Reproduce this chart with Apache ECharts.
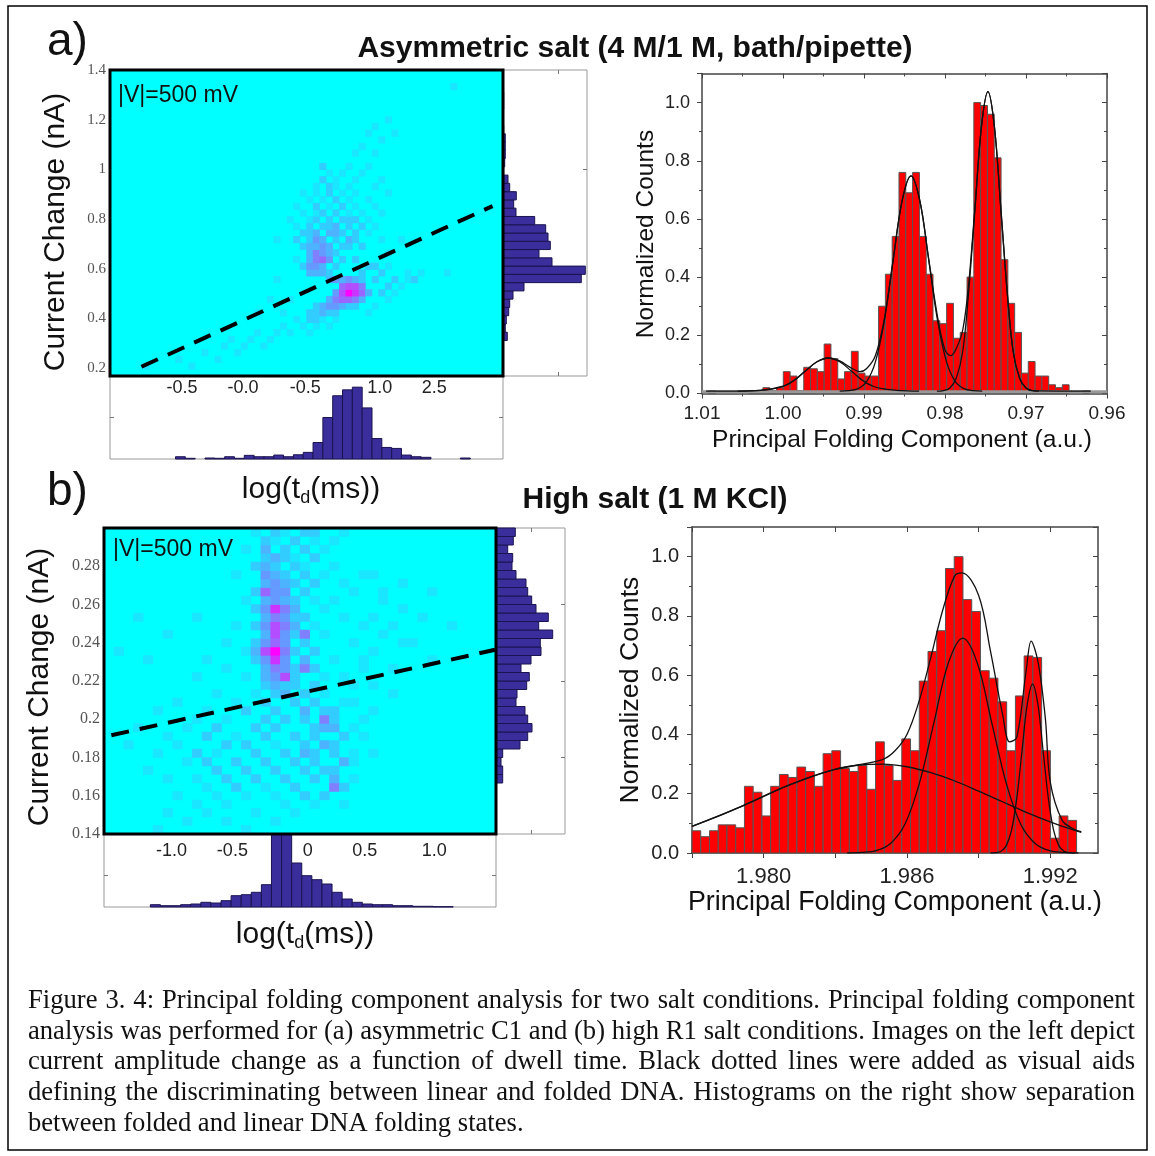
<!DOCTYPE html>
<html>
<head>
<meta charset="utf-8">
<style>
html,body{margin:0;padding:0;background:#fff}
#chart{width:1155px;height:1156px}
</style>
<script src="https://cdn.jsdelivr.net/npm/echarts@6/dist/echarts.min.js"></script>
</head>
<body>
<div id="chart"></div>
<script>
// ---------- data ----------

// (a) dwell-time / current-change map, 60 x 46 bins, [col, row, count]; empty bins left out
const heatA = [
  [5,1,1],[12,1,1],[10,2,1],[16,2,1],[14,3,1],[19,3,1],[17,4,1],[20,4,1],[23,4,1],[18,5,1],[21,5,1],[24,5,1],
  [22,6,1],[25,6,1],[27,6,1],[30,6,1],[26,7,1],[29,7,1],[31,7,1],[33,7,1],[28,8,1],[30,8,2],[31,8,2],[32,8,1],[34,8,1],
  [22,9,1],[26,9,1],[30,9,2],[31,9,2],[32,9,3],[33,9,2],[34,9,2],[39,9,1],
  [31,10,2],[32,10,3],[33,10,4],[34,10,4],[35,10,3],[36,10,2],[37,10,2],[40,10,1],
  [24,11,1],[27,11,1],[33,11,3],[34,11,5],[35,11,6],[36,11,6],[37,11,5],[38,11,3],[42,11,1],
  [34,12,4],[35,12,7],[36,12,10],[37,12,8],[38,12,6],[39,12,3],[41,12,2],[43,12,1],
  [35,13,6],[36,13,7],[37,13,7],[38,13,5],[42,13,2],[44,13,1],
  [25,14,1],[33,14,3],[34,14,4],[35,14,3],[36,14,4],[37,14,3],[38,14,2],[40,14,2],[43,14,2],[45,14,1],[46,14,2],
  [30,15,3],[31,15,3],[32,15,3],[33,15,2],[38,15,2],[41,15,2],[45,15,1],[47,15,1],[51,15,1],
  [29,16,2],[30,16,4],[31,16,4],[32,16,3],[34,16,2],[39,16,2],[40,16,2],[42,16,1],
  [28,17,1],[30,17,3],[31,17,5],[32,17,6],[33,17,4],[35,17,2],[37,17,2],
  [30,18,3],[31,18,5],[32,18,4],[33,18,3],[34,18,2],[42,18,1],
  [29,19,2],[30,19,3],[31,19,3],[32,19,4],[33,19,3],[35,19,2],[36,19,2],[38,19,2],
  [25,20,1],[28,20,2],[30,20,2],[31,20,4],[32,20,3],[34,20,2],[36,20,3],[37,20,2],[41,20,1],[44,20,1],
  [29,21,2],[30,21,2],[31,21,3],[33,21,3],[34,21,3],[35,21,2],[37,21,2],[39,21,1],
  [28,22,1],[30,22,2],[32,22,2],[33,22,2],[34,22,3],[36,22,2],[38,22,2],[40,22,1],
  [27,23,1],[30,23,1],[31,23,2],[33,23,2],[35,23,2],[36,23,2],[37,23,2],[39,23,1],
  [29,24,1],[31,24,1],[32,24,2],[34,24,2],[36,24,1],[38,24,1],[41,24,1],
  [28,25,1],[31,25,2],[33,25,1],[35,25,2],[37,25,1],[40,25,1],
  [30,26,1],[32,26,1],[34,26,2],[36,26,1],[39,26,1],
  [29,27,1],[31,27,1],[33,27,2],[35,27,1],[37,27,1],[42,27,1],
  [31,28,1],[33,28,2],[34,28,1],[36,28,1],[40,28,1],
  [32,29,2],[34,29,1],[37,29,1],[41,29,1],
  [33,30,1],[35,30,1],[38,30,1],[32,31,2],[36,31,1],[39,31,1],
  [37,33,1],[40,33,1],[38,34,1],[41,35,1],[39,36,1],[43,36,1],[40,37,1],[42,38,1],[52,43,1]
];
// (b) same map, 40 x 36 bins
const heatB = [
  [5,0,1],[14,0,1],[8,1,1],[12,1,1],[17,1,1],[6,2,1],[10,2,1],[15,2,1],[19,2,1],
  [9,3,1],[12,3,1],[18,3,1],[21,3,1],[24,3,1],
  [7,4,1],[11,4,1],[14,4,1],[17,4,1],[20,4,2],[22,4,2],
  [10,5,1],[13,5,2],[16,5,1],[19,5,2],[23,5,5],[24,5,2],
  [6,6,1],[9,6,1],[12,6,2],[15,6,2],[18,6,2],[21,6,2],[23,6,3],[25,6,1],
  [4,7,1],[11,7,2],[14,7,2],[17,7,2],[20,7,2],[22,7,2],[23,7,2],
  [8,8,1],[10,8,2],[13,8,2],[16,8,2],[19,8,2],[21,8,2],[24,8,3],[25,8,1],
  [5,9,1],[9,9,2],[11,9,1],[15,9,2],[18,9,2],[20,9,3],[21,9,2],[23,9,2],[25,9,1],[27,9,1],
  [2,10,1],[7,10,1],[12,10,2],[14,10,2],[17,10,1],[20,10,2],[22,10,3],[23,10,2],
  [6,11,1],[10,11,2],[13,11,1],[16,11,2],[19,11,2],[21,11,2],[24,11,2],[26,11,1],
  [3,12,1],[8,12,1],[11,12,2],[15,12,2],[17,12,2],[21,12,2],[22,12,3],[23,12,3],[25,12,1],
  [9,13,1],[12,13,1],[16,13,2],[18,13,2],[20,13,2],[22,13,5],[23,13,2],[26,13,1],
  [5,14,1],[10,14,1],[14,14,2],[17,14,2],[20,14,3],[22,14,2],[23,14,2],[27,14,1],
  [7,15,1],[13,15,1],[16,15,2],[19,15,2],[21,15,2],[24,15,1],[25,15,1],
  [11,16,1],[15,16,1],[17,16,2],[18,16,3],[20,16,2],[22,16,1],[29,16,1],
  [16,17,2],[17,17,3],[18,17,2],[19,17,2],[21,17,2],[25,17,1],[27,17,1],
  [9,18,1],[14,18,1],[16,18,3],[17,18,4],[18,18,7],[19,18,2],[22,18,1],[24,18,1],
  [12,19,1],[16,19,3],[17,19,5],[18,19,4],[19,19,2],[20,19,5],[21,19,2],[26,19,1],[29,19,1],
  [4,20,1],[10,20,1],[15,20,2],[16,20,4],[17,20,8],[18,20,4],[20,20,3],[23,20,1],[26,20,1],[33,20,1],
  [1,21,1],[14,21,1],[15,21,3],[16,21,7],[17,21,10],[18,21,5],[19,21,2],[21,21,2],[27,21,1],
  [12,22,1],[15,22,2],[16,22,4],[17,22,6],[18,22,4],[20,22,2],[25,22,1],[30,22,1],[31,22,1],
  [6,23,1],[16,23,3],[17,23,7],[18,23,4],[19,23,2],[20,23,5],[22,23,1],[28,23,1],
  [13,24,1],[15,24,2],[16,24,4],[17,24,7],[18,24,5],[19,24,3],[21,24,1],[26,24,1],[29,24,1],[35,24,1],
  [3,25,1],[9,25,1],[16,25,3],[17,25,5],[18,25,4],[19,25,2],[20,25,2],[24,25,1],[27,25,1],[32,25,1],
  [15,26,2],[16,26,4],[17,26,8],[18,26,5],[19,26,3],[22,26,1],[30,26,1],
  [14,27,1],[16,27,3],[17,27,4],[18,27,3],[19,27,2],[21,27,1],[23,27,1],[28,27,1],
  [15,28,2],[16,28,6],[17,28,4],[18,28,4],[20,28,2],[25,28,1],[28,28,1],[33,28,1],
  [16,29,3],[17,29,4],[18,29,3],[19,29,2],[21,29,2],[24,29,1],[30,29,1],
  [13,30,1],[16,30,4],[17,30,3],[18,30,2],[20,30,2],[22,30,1],[26,30,1],[27,30,1],
  [15,31,2],[16,31,3],[17,31,2],[19,31,2],[20,31,1],[23,31,1],
  [16,32,2],[17,32,3],[18,32,2],[19,32,1],[21,32,2],
  [14,33,1],[16,33,3],[18,33,2],[20,33,2],[22,33,1],
  [16,34,2],[17,34,1],[19,34,2],[21,34,1],[23,34,1],
  [15,35,1],[17,35,2],[18,35,1],[20,35,2],[21,35,2],[24,35,1]
];

// x tick labels under the maps (positions in bin units)
const tickPosA = [11.0, 20.3, 29.8, 41.2, 49.5];
const tickTextA = ['-0.5', '-0.0', '-0.5', '1.0', '2.5'];
const tickPosB = [6.9, 13.1, 20.8, 26.6, 33.7];
const tickTextB = ['-1.0', '-0.5', '0', '0.5', '1.0'];
const yTicksA = [0.2, 0.4, 0.6, 0.8, 1, 1.2, 1.4];
const yTicksB = [0.14, 0.16, 0.18, 0.2, 0.22, 0.24, 0.26, 0.28];

// dashed guide lines [bin, nA]
const dashA = [[4.8, 0.205], [58.4, 0.852]];
const dashB = [[0.75, 0.1916], [39.9, 0.2363]];

// marginal histograms
const sideA_start = 0.3107, sideA_step = 0.0333;   // nA, bottom -> top
const sideA_counts = [4.3, 2.3, 3.3, 5.7, 6.7, 10, 21, 78.3, 82.3, 49, 36, 47.3, 45, 42.7, 31.7,
  13, 10.7, 13.3, 6.7, 5, 0.7, 1.7, 2.3, 2.3, 2.3, 0.7, 0.3, 0.3, 0.7, 0.7];
const footA_start = 1.0, footA_step = 1.5;          // bin units
const footA_counts = [0, 0, 0, 0, 0, 0, 2.3, 0.7, 0, 1, 0.7, 2.3, 0.7, 3.7, 2.3, 2.3, 4, 2.3, 4.3, 6.7,
  16.7, 42, 64, 70, 72.7, 51.7, 20.7, 11.7, 10.7, 4, 2.3, 1.7, 0, 0, 0, 1];
const sideB_start = 0.14, sideB_step = 0.16 / 36;
const sideB_counts = [0, 0, 0, 0, 0, 0, 6.7, 6.7, 5, 6.7, 24, 31.7, 36, 31.7, 29, 20, 21, 30.7, 33.3, 25,
  35, 45, 44.3, 56.7, 42.7, 52.3, 40, 35.7, 31.7, 30, 20, 16, 16.7, 11.7, 17.3, 19.3];
const footB_start = 4.73, footB_step = 1.03;
const footB_counts = [2.3, 1.3, 1.3, 2.3, 3, 4.7, 4, 6.3, 11.3, 12.3, 14.7, 22.3, 80, 78, 44, 31.3, 27.3,
  23, 14.7, 8, 4.7, 3, 2.3, 2.3, 1.3, 1.3, 0.7, 0.7, 0.3, 0.3];

// principal folding component histograms
const histA_start = 1.0092, histA_step = -0.00084;
const histA_counts = [0.01, 0, 0, 0, 0, 0, 0.005, 0.005, 0.02, 0.01, 0.02, 0.075, 0.06, 0.01, 0.09, 0.085,
  0.075, 0.17, 0.12, 0.05, 0.075, 0.145, 0.07, 0.06, 0.06, 0.30, 0.41, 0.54, 0.76, 0.69, 0.76, 0.54, 0.41,
  0.25, 0.24, 0.31, 0.19, 0.21, 0.40, 1.0, 0.99, 0.96, 0.81, 0.46, 0.31, 0.21, 0.07, 0.11, 0.06, 0.06,
  0.03, 0.02, 0.03, 0, 0, 0.01];
const histB_start = 1.977, histB_step = 0.000366;
const histB_counts = [0.075, 0.055, 0.075, 0.095, 0.095, 0.085, 0.225, 0.205, 0.125, 0.225, 0.265, 0.255,
  0.29, 0.275, 0.225, 0.335, 0.345, 0.285, 0.275, 0.295, 0.215, 0.375, 0.295, 0.245, 0.385, 0.345, 0.58,
  0.68, 0.75, 0.96, 1.0, 0.855, 0.815, 0.615, 0.59, 0.51, 0.345, 0.53, 0.665, 0.66, 0.345, 0.05, 0.125, 0.11];
const baseA = [[1.01, 0.006], [0.96, 0.006]];

// fitted peaks as drawn
const fitA1 = [[1.0056,0.008],[1.0042,0.009],[1.0028,0.011],[1.0014,0.015],[1.0000,0.024],[0.9986,0.045],
  [0.9972,0.078],[0.9958,0.109],[0.9944,0.122],[0.9930,0.109],[0.9916,0.078],[0.9902,0.045],[0.9888,0.024],
  [0.9874,0.015],[0.9860,0.011],[0.9846,0.009],[0.9832,0.008]];
const fitA2 = [[0.9930,0.008],[0.9919,0.010],[0.9908,0.016],[0.9897,0.040],[0.9886,0.108],[0.9875,0.248],
  [0.9864,0.457],[0.9853,0.661],[0.9842,0.748],[0.9831,0.661],[0.9820,0.457],[0.9809,0.248],[0.9798,0.108],
  [0.9787,0.040],[0.9776,0.016],[0.9765,0.010],[0.9754,0.008]];
const fitA3 = [[0.9810,0.008],[0.9802,0.010],[0.9794,0.019],[0.9786,0.053],[0.9778,0.147],[0.9771,0.342],
  [0.9763,0.633],[0.9755,0.917],[0.9747,1.038],[0.9739,0.917],[0.9731,0.633],[0.9723,0.342],[0.9716,0.147],
  [0.9708,0.053],[0.9700,0.019],[0.9692,0.010],[0.9684,0.008]];
const fitA_sum = [[1.0095,0.008],[1.0028,0.011],[1.0000,0.025],[0.9986,0.046],[0.9972,0.078],[0.9958,0.109],
  [0.9944,0.122],[0.9930,0.112],[0.9916,0.088],[0.9905,0.075],[0.9897,0.085],[0.9886,0.13],[0.9875,0.255],
  [0.9864,0.46],[0.9853,0.662],[0.9842,0.748],[0.9831,0.662],[0.9820,0.46],[0.9809,0.26],[0.9800,0.15],
  [0.9793,0.13],[0.9786,0.155],[0.9778,0.22],[0.9771,0.37],[0.9763,0.64],[0.9755,0.918],[0.9747,1.038],
  [0.9739,0.917],[0.9731,0.633],[0.9723,0.342],[0.9716,0.147],[0.9708,0.053],[0.9700,0.019],[0.9692,0.010],
  [0.9620,0.008]];
const fitB1 = [[1.977,0.090],[1.978,0.121],[1.979,0.155],[1.980,0.191],[1.981,0.227],[1.982,0.258],[1.983,0.282],
  [1.984,0.297],[1.985,0.300],[1.986,0.291],[1.987,0.271],[1.988,0.243],[1.989,0.209],[1.990,0.173],
  [1.991,0.137],[1.992,0.105],[1.993,0.077],[1.9933,0.070]];
const fitB2 = [[1.9835,0.000],[1.9841,0.002],[1.98471,0.008],[1.98531,0.032],[1.98592,0.098],[1.98652,0.235],
  [1.98713,0.440],[1.98773,0.640],[1.98834,0.725],[1.98895,0.640],[1.98955,0.440],[1.99016,0.235],
  [1.99076,0.098],[1.99137,0.032],[1.99197,0.008],[1.99258,0.002],[1.99318,0.000]];
const fitB3 = [[1.9895,0.000],[1.98972,0.001],[1.98994,0.006],[1.99016,0.025],[1.99038,0.077],[1.9906,0.185],
  [1.99082,0.346],[1.99104,0.503],[1.99126,0.570],[1.99148,0.503],[1.9917,0.346],[1.99192,0.185],
  [1.99214,0.077],[1.99236,0.025],[1.99258,0.006],[1.9928,0.001],[1.99302,0.000]];
const fitB_sum = [[1.977,0.090],[1.979,0.155],[1.981,0.227],[1.983,0.283],[1.984,0.298],[1.985,0.316],
  [1.9855,0.345],[1.986,0.40],[1.9865,0.51],[1.987,0.66],[1.9875,0.82],[1.988,0.935],[1.9883,0.945],
  [1.989,0.87],[1.9895,0.68],[1.990,0.47],[1.9903,0.375],[1.9906,0.39],[1.991,0.62],[1.9912,0.715],
  [1.9915,0.64],[1.9918,0.45],[1.992,0.24],[1.9925,0.11],[1.993,0.08],[1.9933,0.072]];

const caption = [
  'Figure 3. 4: Principal folding component analysis for two salt conditions. Principal folding component',
  'analysis was performed for (a) asymmetric C1 and (b) high R1 salt conditions. Images on the left depict',
  'current amplitude change as a function of dwell time. Black dotted lines were added as visual aids',
  'defining the discriminating between linear and folded DNA. Histograms on the right show separation',
  'between folded and linear DNA folding states.'
];

// ---------- layout ----------
const SANS = '"Liberation Sans", Arial, sans-serif';
const SERIF = '"Liberation Serif", "Times New Roman", serif';
const box = {
  heatA: { left: 110, top: 70, width: 393, height: 306 },
  sideA: { left: 503, top: 70, width: 84, height: 306 },
  footA: { left: 110, top: 376, width: 393, height: 83 },
  histA: { left: 702, top: 73.5, width: 405, height: 320 },
  heatB: { left: 104, top: 528, width: 392, height: 306 },
  sideB: { left: 496, top: 528, width: 69, height: 306 },
  footB: { left: 104, top: 834, width: 392, height: 73 },
  histB: { left: 692, top: 527, width: 406, height: 326 }
};
const gridNames = Object.keys(box);
const gi = name => gridNames.indexOf(name);

function histItems(start, step, counts) {
  return counts.map((c, i) => [start + i * step, start + (i + 1) * step, c]).filter(d => d[2] > 0);
}
function barRenderer(horizontal, fill, stroke) {
  return function (params, api) {
    const a = api.value(0), b = api.value(1), v = api.value(2);
    const p0 = horizontal ? api.coord([0, a]) : api.coord([a, 0]);
    const p1 = horizontal ? api.coord([v, b]) : api.coord([b, v]);
    const cs = params.coordSys;
    const shape = echarts.graphic.clipRectByRect({
      x: Math.min(p0[0], p1[0]), y: Math.min(p0[1], p1[1]),
      width: Math.abs(p1[0] - p0[0]), height: Math.abs(p1[1] - p0[1])
    }, { x: cs.x, y: cs.y, width: cs.width, height: cs.height });
    if (!shape) return;
    return { type: 'rect', shape: shape, style: { fill: fill, stroke: stroke, lineWidth: 1 } };
  };
}
const numLabel = v => String(+v.toFixed(2));
const hidden = { axisLine: { show: false, onZero: false }, axisTick: { show: false }, axisLabel: { show: false }, splitLine: { show: false } };
const frameLine = { show: true, onZero: false, lineStyle: { color: '#444', width: 1.5 } };

const xAxis = [], yAxis = [];
function addX(o) { xAxis.push(Object.assign({}, hidden, o)); return xAxis.length - 1; }
function addY(o) { yAxis.push(Object.assign({}, hidden, o)); return yAxis.length - 1; }

function mapAxes(name, cols, rows, xMax, yMin, yMax, yTicks, tickPos, tickText, xFont, xMargin, yFont) {
  const cx = addX({ type: 'category', gridIndex: gi(name), position: 'top', show: false, data: Array.from({ length: cols }, (_, i) => i) });
  const cy = addY({ type: 'category', gridIndex: gi(name), position: 'right', show: false, data: Array.from({ length: rows }, (_, i) => i) });
  const vx = addX({ type: 'value', gridIndex: gi(name), position: 'bottom', min: 0, max: xMax,
    axisLabel: { show: true, customValues: tickPos, margin: xMargin, fontSize: xFont, color: '#222', fontFamily: SANS,
      formatter: v => { const i = tickPos.findIndex(p => Math.abs(p - v) < 1e-6); return i >= 0 ? tickText[i] : ''; } } });
  const vy = addY({ type: 'value', gridIndex: gi(name), position: 'left', min: yMin, max: yMax,
    axisLabel: { show: true, customValues: yTicks, margin: 4, fontSize: yFont, color: '#555', fontFamily: SERIF, formatter: numLabel } });
  return { cx, cy, vx, vy };
}
function boxAxes(name, xMin, xMax, yMin, yMax, xTicks, yTicksL, yTicksR) {
  const tick = v => ({ show: v.length > 0, inside: true, length: 4, customValues: v, lineStyle: { color: '#777' } });
  const bx = addX({ type: 'value', gridIndex: gi(name), position: 'bottom', min: xMin, max: xMax, axisTick: tick(xTicks) });
  addX({ type: 'value', gridIndex: gi(name), position: 'top', min: xMin, max: xMax, axisTick: tick(xTicks) });
  const by = addY({ type: 'value', gridIndex: gi(name), position: 'left', min: yMin, max: yMax, axisTick: tick(yTicksL) });
  addY({ type: 'value', gridIndex: gi(name), position: 'right', min: yMin, max: yMax, axisTick: tick(yTicksR) });
  return { x: bx, y: by };
}
function histAxes(name, xOpt, labelSize, ySize, xMargin, yMargin) {
  const common = Object.assign({ type: 'value', gridIndex: gi(name), axisLine: frameLine }, xOpt);
  const bx = addX(Object.assign({}, common, {
    position: 'bottom',
    axisTick: Object.assign({ show: true, length: 5, lineStyle: { color: '#444' } }, xOpt.tickExtra || {}),
    minorTick: xOpt.minor ? { show: true, splitNumber: 2, length: 3, lineStyle: { color: '#444' } } : { show: false },
    axisLabel: Object.assign({ show: true, fontSize: labelSize, color: '#222', fontFamily: SANS, margin: xMargin }, xOpt.labelExtra || {})
  }));
  addX(Object.assign({}, common, {
    position: 'top',
    axisTick: Object.assign({ show: true, inside: true, length: 5, lineStyle: { color: '#444' } }, xOpt.tickExtra || {}),
    minorTick: xOpt.minor ? { show: true, splitNumber: 2, length: 3, lineStyle: { color: '#444' } } : { show: false }
  }));
  const yc = { type: 'value', gridIndex: gi(name), min: 0, max: 1.1, interval: 0.2, axisLine: frameLine };
  const by = addY(Object.assign({}, yc, {
    position: 'left',
    axisTick: { show: true, length: 5, lineStyle: { color: '#444' } },
    minorTick: { show: true, splitNumber: 2, length: 3, lineStyle: { color: '#444' } },
    axisLabel: { show: true, fontSize: ySize, color: '#222', fontFamily: SANS, margin: yMargin, showMaxLabel: false,
      formatter: v => (v > 1.05 ? '' : v.toFixed(1)) }
  }));
  addY(Object.assign({}, yc, {
    position: 'right',
    axisTick: { show: true, inside: true, length: 5, lineStyle: { color: '#444' } },
    minorTick: { show: true, splitNumber: 2, length: 3, lineStyle: { color: '#444' } }
  }));
  return { x: bx, y: by };
}

const mA = mapAxes('heatA', 60, 46, 60, 0.1678, 1.4, yTicksA, tickPosA, tickTextA, 18, 3, 15);
const sA = boxAxes('sideA', 0, 84, 0.1678, 1.4, [55], [], [1.0]);
const fA = boxAxes('footA', 0, 60, 0, 84, [], [42], [42]);
const hA = histAxes('histA', { min: 0.96, max: 1.01, inverse: true, interval: 0.01, minor: true,
  labelExtra: { formatter: v => v.toFixed(2) } }, 19, 18, 11, 12);
const mB = mapAxes('heatB', 40, 36, 40, 0.14, 0.30, yTicksB, tickPosB, tickTextB, 18, 8, 16);
const sB = boxAxes('sideB', 0, 69, 0.14, 0.30, [35], [], [0.18, 0.22, 0.26]);
const fB = boxAxes('footB', 0, 40, 0, 73, [], [32], [32]);
const hB = histAxes('histB', { min: 1.977, max: 1.994,
  tickExtra: { customValues: [1.977, 1.980, 1.983, 1.986, 1.989, 1.992] },
  labelExtra: { customValues: [1.980, 1.986, 1.992], formatter: v => v.toFixed(3) } }, 22, 20, 13, 13);

const grid = gridNames.map(n => {
  const g = Object.assign({ outerBoundsMode: 'none', containLabel: false }, box[n]);
  if (n.startsWith('heat')) Object.assign(g, { show: true, backgroundColor: '#00ffff', borderWidth: 0 });
  else if (n.startsWith('side') || n.startsWith('foot')) Object.assign(g, { show: true, borderColor: '#999', borderWidth: 1, backgroundColor: 'transparent' });
  return g;
});

const blue = '#3a2d9c', blueEdge = '#1b1450';
function fitLine(data, ax) {
  return { type: 'line', xAxisIndex: ax.x, yAxisIndex: ax.y, data: data, smooth: 0.35, showSymbol: false, silent: true,
    lineStyle: { color: '#111', width: 1.3 }, z: 5 };
}
const series = [
  { type: 'heatmap', xAxisIndex: mA.cx, yAxisIndex: mA.cy, data: heatA, silent: true, itemStyle: { borderWidth: 0 } },
  { type: 'line', xAxisIndex: mA.vx, yAxisIndex: mA.vy, data: dashA, showSymbol: false, silent: true, z: 6,
    lineStyle: { color: '#000', width: 4, type: [18, 11] } },
  { type: 'custom', xAxisIndex: sA.x, yAxisIndex: sA.y, renderItem: barRenderer(true, blue, blueEdge), silent: true,
    data: histItems(sideA_start, sideA_step, sideA_counts) },
  { type: 'custom', xAxisIndex: fA.x, yAxisIndex: fA.y, renderItem: barRenderer(false, blue, blueEdge), silent: true,
    data: histItems(footA_start, footA_step, footA_counts) },
  { type: 'custom', xAxisIndex: hA.x, yAxisIndex: hA.y, renderItem: barRenderer(false, '#ff0000', '#555'), silent: true,
    data: histItems(histA_start, histA_step, histA_counts) },
  { type: 'line', xAxisIndex: hA.x, yAxisIndex: hA.y, data: baseA, showSymbol: false, silent: true, z: 4,
    lineStyle: { color: '#999', width: 3 } },
  fitLine(fitA1, hA), fitLine(fitA2, hA), fitLine(fitA3, hA), fitLine(fitA_sum, hA),
  { type: 'heatmap', xAxisIndex: mB.cx, yAxisIndex: mB.cy, data: heatB, silent: true, itemStyle: { borderWidth: 0 } },
  { type: 'line', xAxisIndex: mB.vx, yAxisIndex: mB.vy, data: dashB, showSymbol: false, silent: true, z: 6,
    lineStyle: { color: '#000', width: 4, type: [18, 11] } },
  { type: 'custom', xAxisIndex: sB.x, yAxisIndex: sB.y, renderItem: barRenderer(true, blue, blueEdge), silent: true,
    data: histItems(sideB_start, sideB_step, sideB_counts) },
  { type: 'custom', xAxisIndex: fB.x, yAxisIndex: fB.y, renderItem: barRenderer(false, blue, blueEdge), silent: true,
    data: histItems(footB_start, footB_step, footB_counts) },
  { type: 'custom', xAxisIndex: hB.x, yAxisIndex: hB.y, renderItem: barRenderer(false, '#ff0000', '#555'), silent: true,
    data: histItems(histB_start, histB_step, histB_counts) },
  fitLine(fitB1, hB), fitLine(fitB2, hB), fitLine(fitB3, hB), fitLine(fitB_sum, hB)
];

// ---------- text ----------
function txt(text, x, y, size, extra) {
  extra = extra || {};
  return { type: 'text', x: x, y: y, z: 120, rotation: extra.rotation || 0,
    style: Object.assign({ text: text, fontSize: size, fontFamily: SANS, fill: '#111',
      textAlign: 'center', textVerticalAlign: 'middle' }, extra.style || {}) };
}
const tdRich = { s: { fontSize: 18, fontFamily: SANS, fill: '#111', padding: [16, 0, 0, 0] } };
const graphics = [
  { type: 'rect', z: 110, shape: { x: 8, y: 6, width: 1139, height: 1144 }, style: { fill: 'none', stroke: '#000', lineWidth: 1.5 } },
  { type: 'rect', z: 110, shape: { x: box.heatA.left, y: box.heatA.top, width: box.heatA.width, height: box.heatA.height },
    style: { fill: 'none', stroke: '#000', lineWidth: 3 } },
  { type: 'rect', z: 110, shape: { x: box.heatB.left, y: box.heatB.top, width: box.heatB.width, height: box.heatB.height },
    style: { fill: 'none', stroke: '#000', lineWidth: 3 } },
  txt('a)', 47, 42, 46, { style: { textAlign: 'left' } }),
  txt('b)', 47, 492, 46, { style: { textAlign: 'left' } }),
  txt('Asymmetric salt (4 M/1 M, bath/pipette)', 635, 49, 30, { style: { fontWeight: 'bold' } }),
  txt('High salt (1 M KCl)', 655, 500, 30, { style: { fontWeight: 'bold' } }),
  txt('|V|=500 mV', 118, 96, 23, { style: { textAlign: 'left' } }),
  txt('|V|=500 mV', 113, 550, 23, { style: { textAlign: 'left' } }),
  txt('Current Change (nA)', 56, 232, 30, { rotation: Math.PI / 2 }),
  txt('Current Change (nA)', 40, 687, 30, { rotation: Math.PI / 2 }),
  txt('log(t{s|d}(ms))', 311, 490, 30, { style: { rich: tdRich } }),
  txt('log(t{s|d}(ms))', 305, 935, 30, { style: { rich: tdRich } }),
  txt('Normalized Counts', 646, 234, 24.5, { rotation: Math.PI / 2 }),
  txt('Normalized Counts', 631, 690, 26.7, { rotation: Math.PI / 2 }),
  txt('Principal Folding Component (a.u.)', 902, 440, 24.6),
  txt('Principal Folding Component (a.u.)', 895, 903, 26.8)
];

// caption, justified between the margins like the source page
const capLeft = 28, capRight = 1135, capTop = 1001, capLead = 30.7, capSize = 26.6;
const ctx = document.createElement('canvas').getContext('2d');
ctx.font = capSize + 'px ' + SERIF;
caption.forEach((line, i) => {
  const y = capTop + i * capLead;
  const capStyle = { fontFamily: SERIF, textAlign: 'left', fill: '#111' };
  if (i === caption.length - 1) { graphics.push(txt(line, capLeft, y, capSize, { style: capStyle })); return; }
  const words = line.split(' ');
  const widths = words.map(w => ctx.measureText(w).width);
  const total = widths.reduce((s, w) => s + w, 0);
  const gap = Math.max(2, (capRight - capLeft - total) / (words.length - 1));
  let x = capLeft;
  words.forEach((w, j) => { graphics.push(txt(w, x, y, capSize, { style: capStyle })); x += widths[j] + gap; });
});

const chart = echarts.init(document.getElementById('chart'), null, { renderer: 'canvas' });
chart.setOption({
  animation: false,
  backgroundColor: '#fff',
  grid: grid,
  xAxis: xAxis,
  yAxis: yAxis,
  visualMap: [
    { type: 'continuous', show: false, seriesIndex: 0, dimension: 2, min: 0, max: 10, inRange: { color: ['#00ffff', '#ff00ff'] } },
    { type: 'continuous', show: false, seriesIndex: 10, dimension: 2, min: 0, max: 10, inRange: { color: ['#00ffff', '#ff00ff'] } }
  ],
  series: series,
  graphic: graphics
});
</script>
</body>
</html>
